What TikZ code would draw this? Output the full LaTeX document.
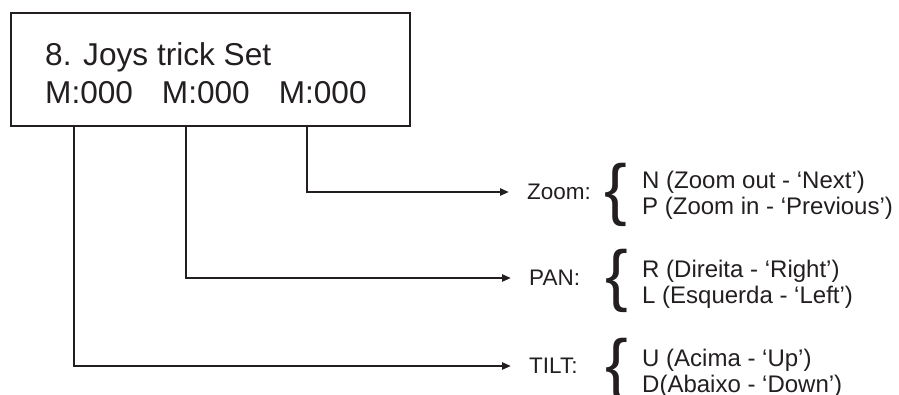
\documentclass[tikz,border=0pt]{standalone}
\usepackage{fontspec}
\setmainfont{Liberation Sans}
\usetikzlibrary{arrows.meta}
\definecolor{ink}{HTML}{231F20}
\begin{document}
\begin{tikzpicture}[x=1pt,y=-1pt,
  lcdbox/.style={draw=ink,line width=1.3pt,rectangle,inner sep=0pt,minimum width=399pt,minimum height=113pt},
  lcdtext/.style={text=ink,inner sep=0pt,anchor=base west,font=\fontsize{31.6}{38}\selectfont},
  lbl/.style={text=ink,inner sep=0pt,anchor=west,font=\fontsize{22.5}{27}\selectfont},
  opt/.style={text=ink,inner sep=0pt,anchor=base west,font=\fontsize{24}{27}\selectfont},
  brc/.style={text=ink,inner sep=0pt,font=\fontsize{68}{68}\selectfont},
  conn/.style={draw=ink,line width=2.8pt,-{Triangle[length=9pt,width=7pt]},shorten >=18pt}
]
\useasboundingbox (0,0) rectangle (899,394);
\node[lcdbox] (lcd) at (210.5,69.5) {};
\node[lcdtext] (l1) at (45,65) {8. Joys trick Set};
\node[lcdtext] (l2) at (45,103) {M:000\hspace{29pt}M:000\hspace{29pt}M:000};
% labels
\node[lbl] (zoom) at (527,192) {Zoom:};
\node[lbl] (pan) at (529,278) {PAN:};
\node[lbl] (tilt) at (529,366) {TILT:};
% braces
\node[brc] (bz) at (616,195) {\{};
\node[brc] (bp) at (617,281) {\{};
\node[brc] (bt) at (617,370) {\{};
% options
\node[opt] (n) at (642,188) {N (Zoom out - ‘Next’)};
\node[opt] (p) at (642,214) {P (Zoom in - ‘Previous’)};
\node[opt] (r) at (642,277) {R (Direita - ‘Right’)};
\node[opt] (l) at (642,303) {L (Esquerda - ‘Left’)};
\node[opt] (u) at (642,366) {U (Acima - ‘Up’)};
\node[opt] (d) at (642,392) {D(Abaixo - ‘Down’)};
% connectors
\coordinate (ct) at (74,126);
\coordinate (cp) at (186,126);
\coordinate (cz) at (307,126);
\draw[conn] (ct) |- (tilt.west);
\draw[conn] (cp) |- (pan.west);
\draw[conn] (cz) |- (zoom.west);
\end{tikzpicture}
\end{document}
